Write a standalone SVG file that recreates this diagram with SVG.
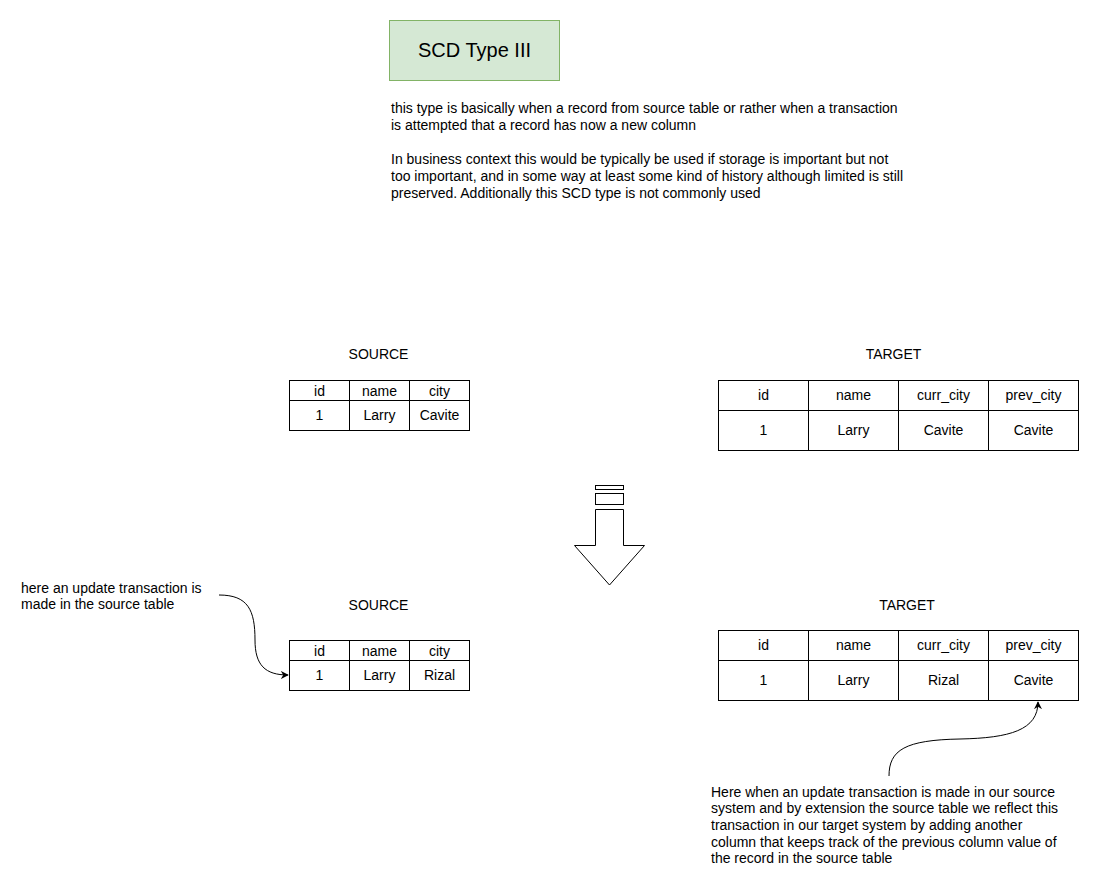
<svg xmlns="http://www.w3.org/2000/svg" width="1101" height="891" viewBox="0 0 1101 891">
<style>
text{font-family:"Liberation Sans",Arial,sans-serif;font-size:14px;fill:#000}
.c{text-anchor:middle}
.cell{fill:#fff;stroke:#000;stroke-width:1}
.ln{fill:none;stroke:#000;stroke-width:1}
</style>
<defs>
<marker id="arr" viewBox="0 0 10 10" refX="9" refY="5" markerWidth="8" markerHeight="8" markerUnits="userSpaceOnUse" orient="auto">
<path d="M0,0 L10,5 L0,10 L3,5 Z" fill="#000"/>
</marker>
</defs>
<rect width="1101" height="891" fill="#fff"/>
<g id="title">
<rect x="389.5" y="20.5" width="170" height="60" fill="#d5e8d4" stroke="#82b366"/>
<text x="474.5" y="57" class="c" style="font-size:20px">SCD Type III</text>
</g>
<g id="description">
<text x="391" y="113">this type is basically when a record from source table or rather when a transaction</text>
<text x="391" y="130">is attempted that a record has now a new column</text>
<text x="391" y="164">In business context this would be typically be used if storage is important but not</text>
<text x="391" y="181">too important, and in some way at least some kind of history although limited is still</text>
<text x="391" y="198">preserved. Additionally this SCD type is not commonly used</text>
</g>
<g id="source-top">
<text x="378.5" y="359" class="c">SOURCE</text>
<rect class="cell" x="289.5" y="380.5" width="60" height="20"/>
<rect class="cell" x="349.5" y="380.5" width="60" height="20"/>
<rect class="cell" x="409.5" y="380.5" width="60" height="20"/>
<rect class="cell" x="289.5" y="400.5" width="60" height="30"/>
<rect class="cell" x="349.5" y="400.5" width="60" height="30"/>
<rect class="cell" x="409.5" y="400.5" width="60" height="30"/>
<text x="319.5" y="395.5" class="c">id</text>
<text x="379.5" y="395.5" class="c">name</text>
<text x="439.5" y="395.5" class="c">city</text>
<text x="319.5" y="420" class="c">1</text>
<text x="379.5" y="420" class="c">Larry</text>
<text x="439.5" y="420" class="c">Cavite</text>
</g>
<g id="target-top">
<text x="893.5" y="359" class="c">TARGET</text>
<rect class="cell" x="718.5" y="380.5" width="90" height="30"/>
<rect class="cell" x="808.5" y="380.5" width="90" height="30"/>
<rect class="cell" x="898.5" y="380.5" width="90" height="30"/>
<rect class="cell" x="988.5" y="380.5" width="90" height="30"/>
<rect class="cell" x="718.5" y="410.5" width="90" height="40"/>
<rect class="cell" x="808.5" y="410.5" width="90" height="40"/>
<rect class="cell" x="898.5" y="410.5" width="90" height="40"/>
<rect class="cell" x="988.5" y="410.5" width="90" height="40"/>
<text x="763.5" y="400" class="c">id</text>
<text x="853.5" y="400" class="c">name</text>
<text x="943.5" y="400" class="c">curr_city</text>
<text x="1033.5" y="400" class="c">prev_city</text>
<text x="763.5" y="435" class="c">1</text>
<text x="853.5" y="435" class="c">Larry</text>
<text x="943.5" y="435" class="c">Cavite</text>
<text x="1033.5" y="435" class="c">Cavite</text>
</g>
<g id="down-arrow">
<rect x="595.5" y="485.5" width="28" height="4" fill="#fff" stroke="#000"/>
<rect x="595.5" y="493.5" width="28" height="11" fill="#fff" stroke="#000"/>
<path d="M595.5,509.5 L623.5,509.5 L623.5,545.5 L644.5,545.5 L609.5,585 L574.5,545.5 L595.5,545.5 Z" fill="#fff" stroke="#000"/>
</g>
<g id="note-left">
<text x="21" y="593">here an update transaction is</text>
<text x="21" y="609">made in the source table</text>
</g>
<g id="source-bottom">
<text x="378.5" y="610" class="c">SOURCE</text>
<rect class="cell" x="289.5" y="640.5" width="60" height="20"/>
<rect class="cell" x="349.5" y="640.5" width="60" height="20"/>
<rect class="cell" x="409.5" y="640.5" width="60" height="20"/>
<rect class="cell" x="289.5" y="660.5" width="60" height="30"/>
<rect class="cell" x="349.5" y="660.5" width="60" height="30"/>
<rect class="cell" x="409.5" y="660.5" width="60" height="30"/>
<text x="319.5" y="655.5" class="c">id</text>
<text x="379.5" y="655.5" class="c">name</text>
<text x="439.5" y="655.5" class="c">city</text>
<text x="319.5" y="680" class="c">1</text>
<text x="379.5" y="680" class="c">Larry</text>
<text x="439.5" y="680" class="c">Rizal</text>
</g>
<g id="target-bottom">
<text x="907" y="610" class="c">TARGET</text>
<rect class="cell" x="718.5" y="630.5" width="90" height="30"/>
<rect class="cell" x="808.5" y="630.5" width="90" height="30"/>
<rect class="cell" x="898.5" y="630.5" width="90" height="30"/>
<rect class="cell" x="988.5" y="630.5" width="90" height="30"/>
<rect class="cell" x="718.5" y="660.5" width="90" height="40"/>
<rect class="cell" x="808.5" y="660.5" width="90" height="40"/>
<rect class="cell" x="898.5" y="660.5" width="90" height="40"/>
<rect class="cell" x="988.5" y="660.5" width="90" height="40"/>
<text x="763.5" y="650" class="c">id</text>
<text x="853.5" y="650" class="c">name</text>
<text x="943.5" y="650" class="c">curr_city</text>
<text x="1033.5" y="650" class="c">prev_city</text>
<text x="763.5" y="685" class="c">1</text>
<text x="853.5" y="685" class="c">Larry</text>
<text x="943.5" y="685" class="c">Rizal</text>
<text x="1033.5" y="685" class="c">Cavite</text>
</g>
<g id="note-right">
<text x="711" y="797">Here when an update transaction is made in our source</text>
<text x="711" y="813">system and by extension the source table we reflect this</text>
<text x="711" y="830">transaction in our target system by adding another</text>
<text x="711" y="847">column that keeps track of the previous column value of</text>
<text x="711" y="863">the record in the source table</text>
</g>
<g id="connectors">
<path class="ln" d="M219,595 C248,595 255,610 255,640 C255,665 265,675 288,675" marker-end="url(#arr)"/>
<path class="ln" d="M889,776 C889,750 905,740 960,739 C1010,738 1038,730 1038,702" marker-end="url(#arr)"/>
</g>
</svg>
